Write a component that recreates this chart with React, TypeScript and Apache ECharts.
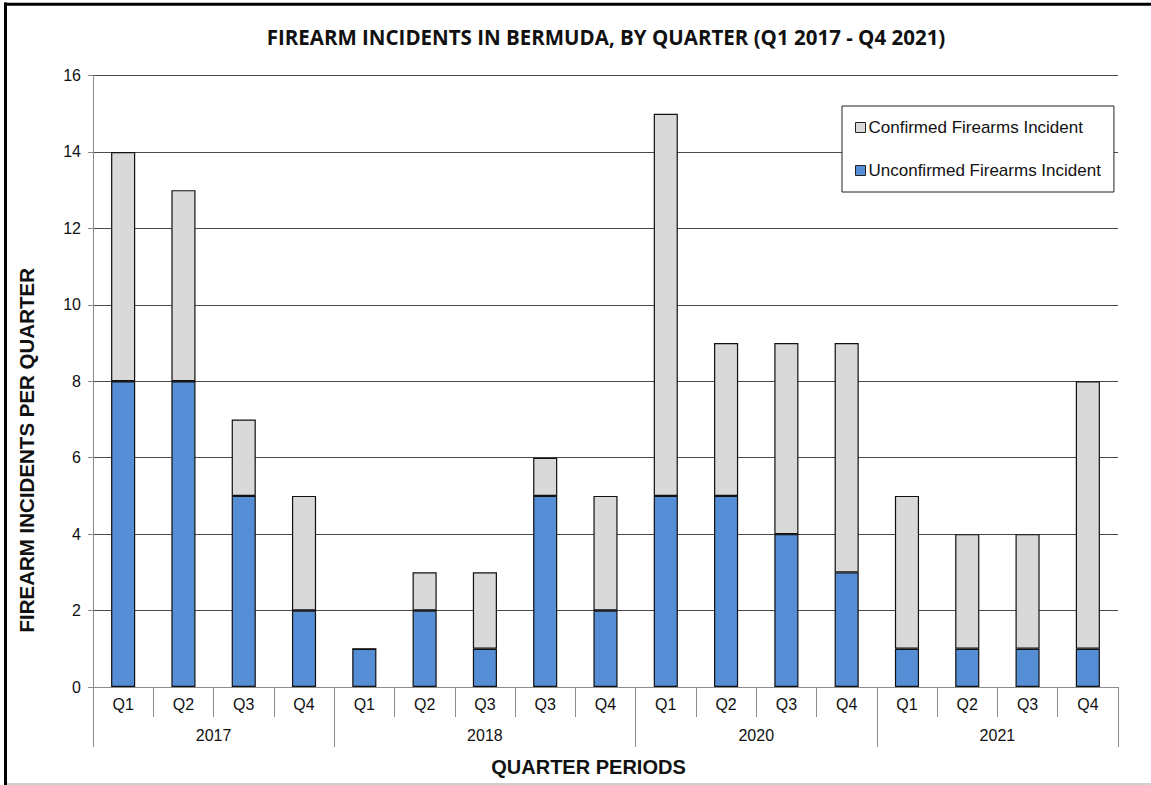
import React, { useEffect, useRef } from "react";
import * as echarts from "echarts";

const quarters = ["Q1", "Q2", "Q3", "Q4", "Q1", "Q2", "Q3", "Q3", "Q4", "Q1", "Q2", "Q3", "Q4", "Q1", "Q2", "Q3", "Q4"];
const years = ["2017", "2018", "2020", "2021"];
const quartersPerYear = [4, 5, 4, 4];
const unconfirmed = [8, 8, 5, 2, 1, 2, 1, 5, 2, 5, 5, 4, 3, 1, 1, 1, 1];
const confirmed = [6, 5, 2, 3, 0, 1, 2, 1, 3, 10, 4, 5, 6, 4, 3, 3, 7];
const yTicks = { min: 0, max: 16, interval: 2 };

const TITLE = "FIREARM INCIDENTS IN BERMUDA, BY QUARTER (Q1 2017 - Q4 2021)";
const FONT = "'Liberation Sans', Arial, sans-serif";

export default function App() {
  const ref = useRef<HTMLDivElement>(null);
  useEffect(() => {
    if (!ref.current) return;
    const chart = echarts.init(ref.current, null, { renderer: "svg" });

    // year-level axis: half-quarter points, boundaries and centres
    const halfPoints: string[] = [];
    const total = quartersPerYear.reduce((a, b) => a + b, 0) * 2;
    for (let i = 0; i <= total; i++) halfPoints.push("");
    const boundaries = new Set<number>([0]);
    let acc = 0;
    years.forEach((y, i) => {
      const center = acc + quartersPerYear[i];
      halfPoints[center] = y;
      acc += quartersPerYear[i] * 2;
      boundaries.add(acc);
    });
    const centers = new Set<number>();
    halfPoints.forEach((v, i) => { if (v) centers.add(i); });

    chart.setOption({
      animation: false,
      textStyle: { fontFamily: FONT },
      grid: { left: 93, right: 33, top: 75.5, bottom: 98, containLabel: false },
      legend: {
        orient: "vertical",
        left: 842,
        top: 106,
        data: ["Confirmed Firearms Incident", "Unconfirmed Firearms Incident"],
        itemWidth: 10,
        itemHeight: 10,
        itemGap: 26,
        padding: [13, 13, 13, 13],
        backgroundColor: "#ffffff",
        borderColor: "#222222",
        borderWidth: 1,
        borderRadius: 0,
        icon: "rect",
        itemStyle: { borderWidth: 1, borderColor: "#222" },
        textStyle: { fontFamily: FONT, fontSize: 17, color: "#111", padding: [0, 0, 0, -2] },
      },
      xAxis: [
        {
          type: "category",
          data: quarters,
          position: "bottom",
          axisLine: { lineStyle: { color: "#8c8c8c", width: 1 } },
          axisTick: { show: true, interval: 0, length: 30, lineStyle: { color: "#8c8c8c" } },
          axisLabel: { interval: 0, margin: 9, fontSize: 16, color: "#111", fontFamily: FONT },
          name: "QUARTER PERIODS",
          nameLocation: "middle",
          nameGap: 70,
          nameTextStyle: { fontSize: 20, fontWeight: "bold", color: "#111", fontFamily: FONT, padding: [0, 34, 0, 0] },
        },
        {
          type: "category",
          data: halfPoints,
          boundaryGap: false,
          position: "bottom",
          axisLine: { show: false },
          axisTick: {
            show: true,
            length: 60,
            interval: (idx: number) => boundaries.has(idx),
            lineStyle: { color: "#8c8c8c" },
          },
          axisLabel: {
            interval: (idx: number) => centers.has(idx),
            margin: 40,
            fontSize: 16,
            color: "#111",
            fontFamily: FONT,
          },
          splitLine: { show: false },
        },
      ],
      yAxis: {
        type: "value",
        min: yTicks.min,
        max: yTicks.max,
        interval: yTicks.interval,
        axisLine: { show: true, lineStyle: { color: "#8c8c8c" } },
        axisTick: { show: true, length: 5, lineStyle: { color: "#8c8c8c" } },
        axisLabel: { fontSize: 16, color: "#111", margin: 12, fontFamily: FONT },
        splitLine: { show: true, lineStyle: { color: "#4a4a4a", width: 1 } },
        name: "FIREARM INCIDENTS PER QUARTER",
        nameLocation: "middle",
        nameRotate: 90,
        nameGap: 56,
        nameTextStyle: { fontSize: 20.5, fontWeight: "bold", color: "#111", fontFamily: FONT, padding: [0, 138, 0, 0] },
      },
      series: [
        {
          name: "Unconfirmed Firearms Incident",
          type: "bar",
          stack: "total",
          xAxisIndex: 0,
          barWidth: "40%",
          data: unconfirmed,
          itemStyle: { color: "#558ed5", borderColor: "#111", borderWidth: 1.2 },
        },
        {
          name: "Confirmed Firearms Incident",
          type: "bar",
          stack: "total",
          xAxisIndex: 0,
          barWidth: "40%",
          data: confirmed,
          itemStyle: { color: "#d9d9d9", borderColor: "#111", borderWidth: 1.2 },
        },
      ],
      graphic: [
        {
          type: "text",
          x: 606,
          y: 37,
          style: {
            text: TITLE,
            font: "bold 20.5px 'Open Sans', Lato, sans-serif",
            fill: "#111",
            textAlign: "center",
            textVerticalAlign: "middle",
          },
        },
        { type: "line", shape: { x1: 5.5, y1: 2.5, x2: 5.5, y2: 785 }, style: { stroke: "#000", lineWidth: 3 } },
        { type: "line", shape: { x1: 4, y1: 4.2, x2: 1151, y2: 4.2 }, style: { stroke: "#000", lineWidth: 3 } },
        { type: "line", shape: { x1: 7, y1: 784, x2: 1151, y2: 784 }, style: { stroke: "#bfbfbf", lineWidth: 1.5 } },
      ],
    });
    return () => chart.dispose();
  }, []);
  return <div ref={ref} style={{ position: "absolute", left: 0, top: 0, width: 1151, height: 785 }} />;
}
